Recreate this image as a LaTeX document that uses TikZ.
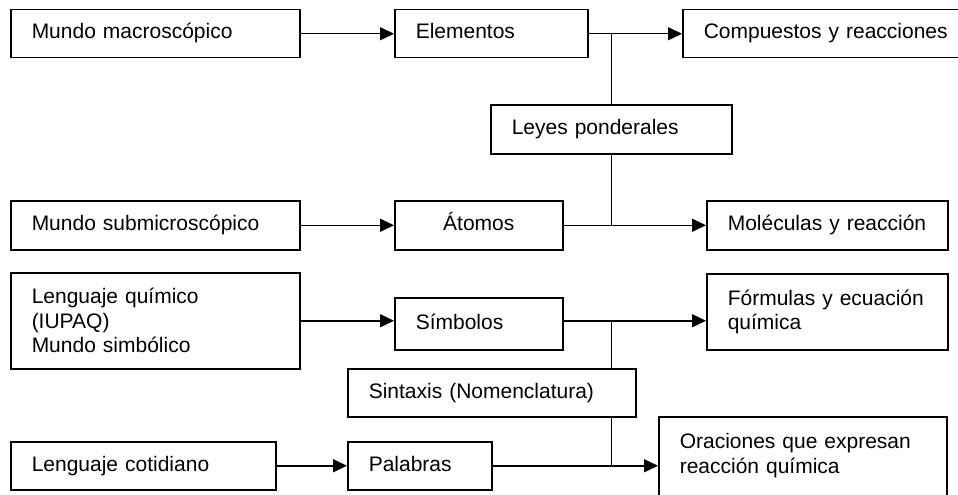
\documentclass[tikz,border=0pt]{standalone}
\usepackage{fontspec}
\setmainfont{Liberation Sans}
\usetikzlibrary{arrows.meta}

\begin{document}
\begin{tikzpicture}[x=1pt, y=-1pt,
    box/.style={draw, line width=1.5pt, anchor=north west, inner xsep=21pt,
      inner ysep=0pt, align=left, font=\fontsize{21}{24.5}\selectfont},
    one/.style={box, text height=15pt, text depth=4.5pt},
    link/.style={line width=1.5pt},
    arr/.style={link, -{Triangle[length=14pt, width=13pt]}}
    ]
    \useasboundingbox (0,0) rectangle (958,495);
    \clip (0,0) rectangle (958,495);

    \node[one, text width=247pt, minimum height=48pt] (macro) at (10,9) {Mundo macroscópico};
    \node[one, text width=151pt, minimum height=48pt] (elem) at (394,9) {Elementos};
    \node[one, text width=256pt, minimum height=48pt] (comp) at (682,9) {Compuestos y reacciones};
    \node[one, text width=199pt, minimum height=49pt] (leyes) at (490,104) {Leyes ponderales};

    \node[one, text width=247pt, minimum height=49pt] (submicro) at (10,200) {Mundo submicroscópico};
    \node[one, text width=126pt, minimum height=49pt, align=center] (atom) at (394,200) {Átomos};
    \node[one, text width=199pt, minimum height=49pt] (mol) at (706,200) {Moléculas y reacción};

    \node[box, text width=247pt, minimum height=96pt] (quim) at (10,272) {Lenguaje químico\\(IUPAQ)\\Mundo simbólico};
    \node[one, text width=126pt, minimum height=52pt] (sym) at (394,297) {Símbolos};
    \node[box, text width=199pt, minimum height=76pt] (form) at (706,273) {Fórmulas y ecuación\\química};
    \node[one, text width=246pt, minimum height=48pt] (sint) at (347,368) {Sintaxis (Nomenclatura)};

    \node[one, text width=223pt, minimum height=48pt] (cot) at (10,441) {Lenguaje cotidiano};
    \node[one, text width=102pt, minimum height=48pt] (pal) at (347,441) {Palabras};
    \node[box, text width=246pt, inner ysep=17pt, text height=15pt, text depth=90pt] (ora) at (658,416) {Oraciones que expresan\\reacción química};

    \draw[arr] (macro.east) -- (elem.west);
    \draw[arr] (elem.east) -- (comp.west);
    \draw[link] (leyes.north) -- (leyes.north |- elem.east);
    \draw[link] (leyes.south) -- (leyes.south |- atom.east);

    \draw[arr] (submicro.east) -- (atom.west);
    \draw[arr] (atom.east) -- (mol.west);

    \draw[arr] (quim.east) -- (quim.east -| sym.west);
    \draw[arr] (sym.east |- quim.east) -- (quim.east -| form.west);
    \draw[link] (leyes.south |- sint.north) -- (leyes.south |- quim.east);
    \draw[link] (leyes.south |- sint.south) -- (leyes.south |- pal.east);

    \draw[arr] (cot.east) -- (pal.west);
    \draw[arr] (pal.east) -- (pal.east -| ora.west);
  \end{tikzpicture}
\end{document}
